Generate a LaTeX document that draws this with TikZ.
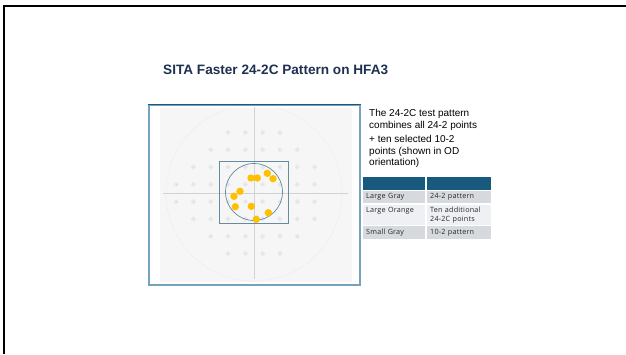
\documentclass[tikz,border=0pt]{standalone}
\usepackage{fontspec}
\setmainfont{Liberation Sans}
\newfontfamily\cellfont[LetterSpace=3]{Open Sans}
\usetikzlibrary{positioning}
\definecolor{titlenavy}{RGB}{31, 48, 80}
\definecolor{framesteel}{RGB}{118, 163, 187}
\definecolor{headteal}{RGB}{24, 90, 125}
\definecolor{rowgray}{RGB}{214, 218, 223}
\definecolor{rowlight}{RGB}{238, 240, 243}
\definecolor{spotgold}{RGB}{255, 192, 0}

\begin{document}
\begin{tikzpicture}[x=1pt, y=-1pt,
        gdot/.style={circle, fill=gray!60, draw=gray!17, line width=1.5pt,
            inner sep=0pt, minimum size=3.2pt},
        odot/.style={circle, fill=spotgold, inner sep=0pt, minimum size=7.4pt},
        cell/.style={anchor=north west, inner xsep=3pt, inner ysep=0pt,
            align=left, text=black!85,
            font=\cellfont\fontsize{7.2}{9}\selectfont},
        hcell/.style={anchor=north west, fill=headteal, inner sep=0pt,
            minimum height=12.5pt}
    ]
    \useasboundingbox (0,0) rectangle (626,354);

    % slide frame
    \draw[line width=2pt] (626,6) -- (4,6) -- (4,354);

    \node[anchor=base west, inner sep=0pt, text=titlenavy,
        font=\bfseries\fontsize{13.6}{15}\selectfont] (title) at (163,74)
        {SITA Faster 24-2C Pattern on HFA3};

    % field plot
    \node[draw=framesteel, line width=1.4pt, fill=white, inner sep=0pt,
        minimum width=211pt, minimum height=180pt] (fieldbox) at (254.5,195) {};
    \draw[headteal, line width=1.4pt] (fieldbox.north west) -- (fieldbox.north east);
    \fill[gray!7] (160,108) rectangle (352,282);
    \begin{scope}
        \clip (160,108) rectangle (352,282);
        \draw[gray!14] (254,193) circle (88);
    \end{scope}
    \draw[gray!35, line width=0.8pt] (254.5,107) -- (254.5,279);
    \draw[gray!35, line width=0.8pt] (163,193) -- (348,193);

    % 24-2 grid
    \foreach \r/\a/\b in {0/3/6, 1/2/7, 2/1/8, 3/0/8, 4/0/8, 5/1/8, 6/2/7, 7/3/6}
        \foreach \c in {\a,...,\b}
            \node[gdot] (g-\r-\c) at ({254+(\c-4.5)*17.3}, {193+(\r-3.5)*17.3}) {};

    \node[draw=framesteel!85!black, line width=0.7pt, inner sep=0pt,
        minimum width=69pt, minimum height=62pt] (centralsq) at (253.5,192) {};
    \node[circle, draw=framesteel!85!black, line width=0.7pt, inner sep=0pt,
        minimum size=57pt] (tencirc) at (254,192) {};

    % ten added 10-2 points
    \node[odot] (o1) at (251,178) {};
    \node[odot] (o2) at (257.3,178) {};
    \node[odot] (o3) at (267.3,173.3) {};
    \node[odot] (o4) at (273,178.7) {};
    \node[odot] (o5) at (240,191.3) {};
    \node[odot] (o6) at (234,196.3) {};
    \node[odot] (o7) at (235.3,206.7) {};
    \node[odot] (o8) at (251.3,206.3) {};
    \node[odot] (o9) at (268.3,212.7) {};
    \node[odot] (o10) at (256.3,219.3) {};

    \node[anchor=north west, align=left, inner sep=0pt,
        font=\fontsize{10}{11.6}\selectfont] (desc) at (369,109.5)
        {The 24-2C test pattern\\
         combines all 24-2 points\\[2.5pt]
         + ten selected 10-2\\
         points (shown in OD\\
         orientation)};

    % legend table
    \node[hcell, minimum width=62pt] (h1) at (363,177) {};
    \node[hcell, minimum width=64pt] (h2) at (427,177) {};
    \node[cell, fill=rowgray, text width=56pt, minimum height=12.4pt] (a1) at (363,190.8) {Large Gray};
    \node[cell, fill=rowgray, text width=58pt, minimum height=12.4pt] (b1) at (427,190.8) {24-2 pattern};
    \node[cell, fill=rowlight, text width=56pt, minimum height=20.4pt] (a2) at (363,204.4) {Large Orange\\[0pt]~};
    \node[cell, fill=rowlight, text width=58pt, minimum height=20.4pt] (b2) at (427,204.4) {Ten additional\\24-2C points};
    \node[cell, fill=rowgray, text width=56pt, minimum height=12.4pt] (a3) at (363,226) {Small Gray};
    \node[cell, fill=rowgray, text width=58pt, minimum height=12.4pt] (b3) at (427,226) {10-2 pattern};
\end{tikzpicture}
\end{document}
